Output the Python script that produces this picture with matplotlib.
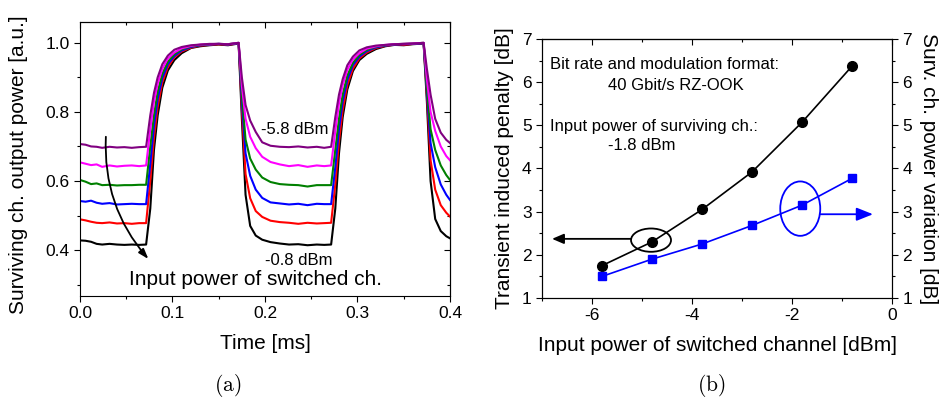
import matplotlib
matplotlib.use("Agg")
import matplotlib.pyplot as plt
from matplotlib.patches import Ellipse
from matplotlib.ticker import MultipleLocator, FormatStrFormatter

plt.rcParams["font.family"] = ["Liberation Sans", "DejaVu Sans"]
plt.rcParams["mathtext.fontset"] = "cm"
plt.rcParams["axes.unicode_minus"] = False

# (a) 时域波形 - time axis [ms]
t_ms = [0.000, 0.006, 0.012, 0.018, 0.024, 0.032, 0.040, 0.048, 0.056, 0.064, 0.0715,
        0.076, 0.080, 0.084, 0.089, 0.095, 0.102, 0.110, 0.120, 0.130, 0.140, 0.150, 0.160, 0.1715,
        0.175, 0.179, 0.184, 0.190, 0.197, 0.206, 0.216, 0.226, 0.236, 0.246, 0.256, 0.264, 0.2715,
        0.276, 0.280, 0.284, 0.289, 0.295, 0.302, 0.310, 0.320, 0.330, 0.340, 0.350, 0.360, 0.3715,
        0.375, 0.379, 0.384, 0.390, 0.396, 0.400]

p_black = [0.428, 0.427, 0.424, 0.418, 0.416, 0.418, 0.416, 0.415, 0.416, 0.415, 0.416,
           0.520, 0.690, 0.790, 0.870, 0.920, 0.950, 0.970, 0.985, 0.990, 0.993, 0.995, 0.993, 0.998,
           0.780, 0.560, 0.470, 0.442, 0.430, 0.423, 0.419, 0.416, 0.417, 0.414, 0.416, 0.415, 0.416,
           0.520, 0.680, 0.785, 0.865, 0.918, 0.950, 0.968, 0.982, 0.990, 0.994, 0.993, 0.996, 0.998,
           0.830, 0.600, 0.490, 0.455, 0.440, 0.434]
p_red = [0.489, 0.486, 0.482, 0.479, 0.478, 0.480, 0.477, 0.478, 0.476, 0.478, 0.478,
         0.600, 0.725, 0.815, 0.885, 0.930, 0.958, 0.975, 0.986, 0.992, 0.994, 0.996, 0.994, 0.999,
         0.810, 0.620, 0.550, 0.513, 0.496, 0.485, 0.481, 0.479, 0.476, 0.479, 0.477, 0.478, 0.479,
         0.590, 0.715, 0.805, 0.878, 0.925, 0.955, 0.972, 0.985, 0.991, 0.995, 0.994, 0.997, 0.999,
         0.850, 0.660, 0.575, 0.530, 0.508, 0.497]
p_blue = [0.542, 0.540, 0.543, 0.537, 0.534, 0.536, 0.532, 0.533, 0.534, 0.533, 0.533,
          0.650, 0.760, 0.838, 0.898, 0.938, 0.962, 0.978, 0.988, 0.993, 0.995, 0.997, 0.995, 0.999,
          0.830, 0.680, 0.615, 0.575, 0.551, 0.538, 0.535, 0.532, 0.534, 0.530, 0.534, 0.533, 0.533,
          0.640, 0.750, 0.830, 0.893, 0.935, 0.960, 0.976, 0.987, 0.992, 0.995, 0.996, 0.997, 0.999,
          0.860, 0.710, 0.640, 0.590, 0.560, 0.545]
p_green = [0.603, 0.598, 0.591, 0.593, 0.588, 0.589, 0.587, 0.588, 0.588, 0.589, 0.589,
           0.700, 0.790, 0.858, 0.910, 0.945, 0.967, 0.981, 0.990, 0.994, 0.996, 0.997, 0.996, 1.000,
           0.850, 0.720, 0.665, 0.633, 0.610, 0.597, 0.591, 0.589, 0.588, 0.584, 0.588, 0.588, 0.588,
           0.690, 0.780, 0.850, 0.905, 0.942, 0.965, 0.979, 0.989, 0.993, 0.996, 0.997, 0.998, 1.000,
           0.870, 0.750, 0.690, 0.645, 0.617, 0.603]
p_magenta = [0.654, 0.650, 0.646, 0.648, 0.641, 0.645, 0.642, 0.644, 0.645, 0.643, 0.645,
             0.750, 0.830, 0.882, 0.925, 0.955, 0.972, 0.984, 0.991, 0.995, 0.996, 0.997, 0.996, 1.000,
             0.875, 0.780, 0.728, 0.695, 0.670, 0.655, 0.648, 0.643, 0.646, 0.641, 0.645, 0.643, 0.645,
             0.745, 0.825, 0.878, 0.922, 0.952, 0.970, 0.983, 0.990, 0.994, 0.996, 0.997, 0.998, 1.000,
             0.895, 0.800, 0.745, 0.700, 0.672, 0.660]
p_purple = [0.707, 0.705, 0.700, 0.699, 0.696, 0.699, 0.697, 0.698, 0.696, 0.698, 0.699,
            0.790, 0.855, 0.900, 0.938, 0.963, 0.980, 0.988, 0.993, 0.995, 0.997, 0.997, 0.996, 1.000,
            0.900, 0.820, 0.775, 0.742, 0.712, 0.702, 0.699, 0.698, 0.700, 0.697, 0.699, 0.696, 0.699,
            0.785, 0.850, 0.895, 0.935, 0.960, 0.978, 0.987, 0.992, 0.994, 0.996, 0.997, 0.998, 1.000,
            0.925, 0.850, 0.780, 0.740, 0.719, 0.710]

traces = [p_black, p_red, p_blue, p_green, p_magenta, p_purple]
trace_colors = ["#000000", "#ff0000", "#0000ff", "#008000", "#ff00ff", "#800080"]

# (b) 功率相关性
sw_power = [-5.8, -4.8, -3.8, -2.8, -1.8, -0.8]
penalty_db = [1.75, 2.30, 3.05, 3.92, 5.07, 6.37]
variation_db = [1.50, 1.90, 2.25, 2.68, 3.15, 3.77]


def style_ticks(axis_obj, direction, **kw):
    axis_obj.tick_params(which="both", direction=direction, width=0.8, **kw)
    axis_obj.tick_params(which="major", length=4)
    axis_obj.tick_params(which="minor", length=2.5)


fig = plt.figure(figsize=(9.43, 4.04), dpi=100)

# ---------- 子图 (a) ----------
ax = fig.add_axes([0.0848, 0.2673, 0.3924, 0.678])
for vals, c in zip(traces, trace_colors):
    ax.plot(t_ms, vals, color=c, lw=1.5)

ax.set_xlim(0, 0.4)
ax.set_ylim(0.267, 1.06)
ax.xaxis.set_major_locator(MultipleLocator(0.1))
ax.xaxis.set_minor_locator(MultipleLocator(0.05))
ax.yaxis.set_major_locator(MultipleLocator(0.2))
ax.yaxis.set_minor_locator(MultipleLocator(0.1))
ax.xaxis.set_major_formatter(FormatStrFormatter("%.1f"))
ax.yaxis.set_major_formatter(FormatStrFormatter("%.1f"))
style_ticks(ax, "out", labelsize=12.5)

sx = ax.secondary_xaxis("top")
sx.xaxis.set_major_locator(MultipleLocator(0.1))
sx.xaxis.set_minor_locator(MultipleLocator(0.05))
style_ticks(sx, "in", labeltop=False)
sy = ax.secondary_yaxis("right")
sy.yaxis.set_major_locator(MultipleLocator(0.2))
sy.yaxis.set_minor_locator(MultipleLocator(0.1))
style_ticks(sy, "in", labelright=False)

ax.set_xlabel("Time [ms]", fontsize=15, va="center")
ax.set_ylabel("Surviving ch. output power [a.u.]", fontsize=15, va="center", ha="center",
              rotation_mode="default")
ax.xaxis.set_label_coords(0.5, -0.175)
ax.yaxis.set_label_coords(-0.165, 0.48)

ax.text(0.196, 0.748, "-5.8 dBm", fontsize=12, va="center")
ax.text(0.2, 0.371, "-0.8 dBm", fontsize=12, va="center")
ax.text(0.0525, 0.316, "Input power of switched ch.", fontsize=15, va="center")
ax.annotate("", xy=(0.074, 0.374), xytext=(0.028, 0.728),
            arrowprops=dict(arrowstyle="-|>,head_length=0.6,head_width=0.2", color="black",
                            lw=1.3, connectionstyle="arc3,rad=0.2", shrinkA=0, shrinkB=0))

# ---------- 子图 (b) ----------
bx = fig.add_axes([0.5748, 0.2624, 0.3711, 0.6411])
bx.plot(sw_power, penalty_db, color="black", marker="o", ms=7, lw=1.2)
bx.set_xlim(-7, 0)
bx.set_ylim(1, 7)
bx.xaxis.set_major_locator(MultipleLocator(2))
bx.xaxis.set_minor_locator(MultipleLocator(1))
bx.yaxis.set_major_locator(MultipleLocator(1))
bx.yaxis.set_minor_locator(MultipleLocator(0.5))
style_ticks(bx, "out", labelsize=12.5)

bsx = bx.secondary_xaxis("top")
bsx.xaxis.set_major_locator(MultipleLocator(2))
bsx.xaxis.set_minor_locator(MultipleLocator(1))
style_ticks(bsx, "in", labeltop=False)

bx2 = bx.twinx()
bx2.plot(sw_power, variation_db, color="#0000ff", marker="s", ms=6, lw=1.2)
bx2.set_ylim(1, 7)
bx2.yaxis.set_major_locator(MultipleLocator(1))
bx2.yaxis.set_minor_locator(MultipleLocator(0.5))
style_ticks(bx2, "out", labelsize=12.5)

bx.set_xlabel("Input power of switched channel [dBm]", fontsize=15, va="center")
bx.set_ylabel("Transient induced penalty [dB]", fontsize=15, va="center", ha="center",
              rotation_mode="default")
bx2.set_ylabel("Surv. ch. power variation [dB]", fontsize=15, rotation=270, va="center",
               ha="center", rotation_mode="default")
bx.xaxis.set_label_coords(0.5, -0.185)
bx.yaxis.set_label_coords(-0.108, 0.5)
bx2.yaxis.set_label_coords(1.105, 0.5)

bx.text(-6.85, 6.40, "Bit rate and modulation format:", fontsize=12, va="center")
bx.text(-5.69, 5.93, "40 Gbit/s RZ-OOK", fontsize=12, va="center")
bx.text(-6.85, 4.98, "Input power of surviving ch.:", fontsize=12, va="center")
bx.text(-5.69, 4.54, "-1.8 dBm", fontsize=12, va="center")

# 圈和箭头
bx2.add_patch(Ellipse((-4.82, 2.34), 0.8, 0.54, fill=False, ec="black", lw=1.3))
bx2.annotate("", xy=(-6.8, 2.37), xytext=(-5.22, 2.37),
             arrowprops=dict(arrowstyle="-|>,head_length=0.7,head_width=0.3", color="black",
                             lw=1.3, shrinkA=0, shrinkB=0))
bx2.add_patch(Ellipse((-1.835, 3.07), 0.8, 1.26, fill=False, ec="#0000ff", lw=1.3))
bx2.annotate("", xy=(-0.38, 2.94), xytext=(-1.435, 2.94),
             arrowprops=dict(arrowstyle="-|>,head_length=1.0,head_width=0.4", color="#0000ff",
                             lw=1.3, shrinkA=0, shrinkB=0))

fig.text(228 / 943, 0.047, r"$\mathrm{(a)}$", fontsize=15.5, ha="center", va="center")
fig.text(711 / 943, 0.047, r"$\mathrm{(b)}$", fontsize=15.5, ha="center", va="center")

fig.savefig("out.png", dpi=100)
